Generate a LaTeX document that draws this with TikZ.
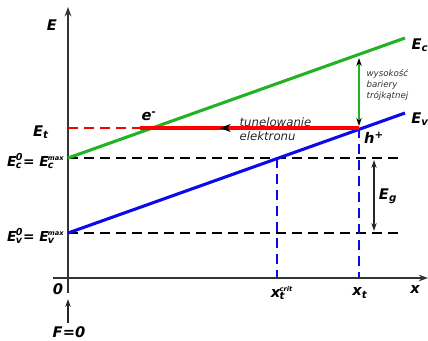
\documentclass[tikz,border=0pt]{standalone}
\usepackage{fontspec}
\setmainfont{DejaVu Sans}
\usepackage{xcolor}
\usepackage{tikz}
\usetikzlibrary{arrows.meta}

\definecolor{cband}{RGB}{34,178,34}
\definecolor{vband}{RGB}{10,10,235}
\definecolor{tlevel}{RGB}{255,0,0}

% superscript stacked over subscript
\newcommand{\sps}[2]{\kern-0.6pt\sbox0{\raisebox{1pt}{\textsuperscript{#1}}}\sbox2{\textsubscript{#2}}%
  \ifdim\wd0>\wd2 \rlap{\usebox2}\usebox0\else\rlap{\usebox0}\usebox2\fi}
\newcommand{\wee}{\fontsize{5}{6}\selectfont}

\tikzset{
  axis/.style={line width=1.5pt, black!80, -{Stealth[length=7pt,width=5pt]}},
  band/.style={line width=2.3pt},
  guide/.style={line width=0.9pt, dash pattern=on 7.5pt off 4.5pt},
  lbl/.style={font=\fontsize{11}{13}\selectfont\bfseries\itshape, inner sep=1pt},
  lvl/.style={lbl, font=\fontsize{10.3}{12}\selectfont\bfseries\itshape, anchor=east},
  txt/.style={font=\fontsize{8.8}{10}\selectfont\itshape, align=left, inner sep=1pt, text=black!85},
  small/.style={font=\fontsize{6.5}{8}\selectfont\itshape, align=left, inner sep=1pt, text=black!80}
}

\begin{document}
\begin{tikzpicture}[x=0.75pt, y=-0.75pt]
            \useasboundingbox (0,0) rectangle (428,340);

            % Points of the diagram
            \coordinate (O) at (68,278);
            \coordinate (Etop) at (68,7);
            \coordinate (Ebot) at (68,293);
            \coordinate (Xleft) at (53,278);
            \coordinate (Xright) at (428,278);
            \coordinate (Fbot) at (68,323);
            \coordinate (Ftop) at (68,299);
            \coordinate (Ec0) at (68,158);
            \coordinate (Ec1) at (405,38);
            \coordinate (Ev0) at (68,233);
            \coordinate (Ev1) at (405,113);
            \coordinate (Ecd) at (403,158);
            \coordinate (Evd) at (403,233);
            \coordinate (Et0) at (68,128);
            \coordinate (Etc) at (140,128);
            \coordinate (Ett) at (359,128);
            \coordinate (Arr) at (220,128);
            \coordinate (ArrB) at (228,128);
            \coordinate (Xc) at (277,158);
            \coordinate (Xcb) at (277,278);
            \coordinate (Xtb) at (359,278);
            \coordinate (Bh1) at (359,58);
            \coordinate (Bh2) at (359,126);
            \coordinate (Eg1) at (374,160);
            \coordinate (Eg2) at (374,231);

            % Axes
            \draw[axis] (Ebot) -- (Etop);
            \draw[axis] (Xleft) -- (Xright);
            \draw[line width=1pt, black!85, -{Stealth[length=6pt,width=4pt]}] (Fbot) -- (Ftop);

            % Reference levels
            \draw[guide, black] (Ec0) -- (Ecd);
            \draw[guide, black] (Ev0) -- (Evd);
            \draw[guide, tlevel] (Et0) -- (Etc);
            \draw[guide, vband] (Xc) -- (Xcb);
            \draw[guide, vband] (Ett) -- (Xtb);

            % Bands
            \draw[band, cband] (Ec0) -- (Ec1);
            \draw[band, vband] (Ev0) -- (Ev1);
            \draw[band, tlevel] (Etc) -- (Ett);
            \draw[black, -{Stealth[length=8pt,width=6pt]}] (ArrB) -- (Arr);

            % Barrier height and gap
            \draw[line width=1pt, cband, {Stealth[length=6pt,width=4pt,black]}-{Stealth[length=6pt,width=4pt,black]}] (Bh1) -- (Bh2);
            \draw[line width=1pt, black!85, {Stealth[length=6pt,width=4pt]}-{Stealth[length=6pt,width=4pt]}] (Eg1) -- (Eg2);

            % Labels
            \node[lbl] (lE) at (52,25) {E};
            \node[lbl] (lEc) at (420,45) {E\textsubscript{c}};
            \node[lbl] (lEv) at (420,119) {E\textsubscript{v}};
            \node[lbl] (lEt) at (41,132) {E\textsubscript{t}};
            \node[lvl] (lEc0) at (66,161) {E\sps{0}{c}= E\sps{\wee max}{c}};
            \node[lvl] (lEv0) at (66,236) {E\sps{0}{v}= E\sps{\wee max}{v}};
            \node[lbl] (le) at (149,116) {e\textsuperscript{-}};
            \node[lbl] (lh) at (374,138) {h\textsuperscript{+}};
            \node[txt, anchor=west] (ltun) at (238,129) {tunelowanie\\elektronu};
            \node[small, anchor=west] (lbar) at (365,85) {wysokość\\bariery\\trójkątnej};
            \node[lbl] (lEg) at (388,196) {E\textsubscript{g}};
            \node[lbl] (l0) at (58,289) {0};
            \node[lbl] (lx) at (415,289) {x};
            \node[lbl] (lxc) at (282,293) {x\sps{\wee crit}{t}};
            \node[lbl] (lxt) at (360,293) {x\textsubscript{t}};
            \node[lbl] (lF) at (69,332) {F=0};
\end{tikzpicture}
\end{document}
